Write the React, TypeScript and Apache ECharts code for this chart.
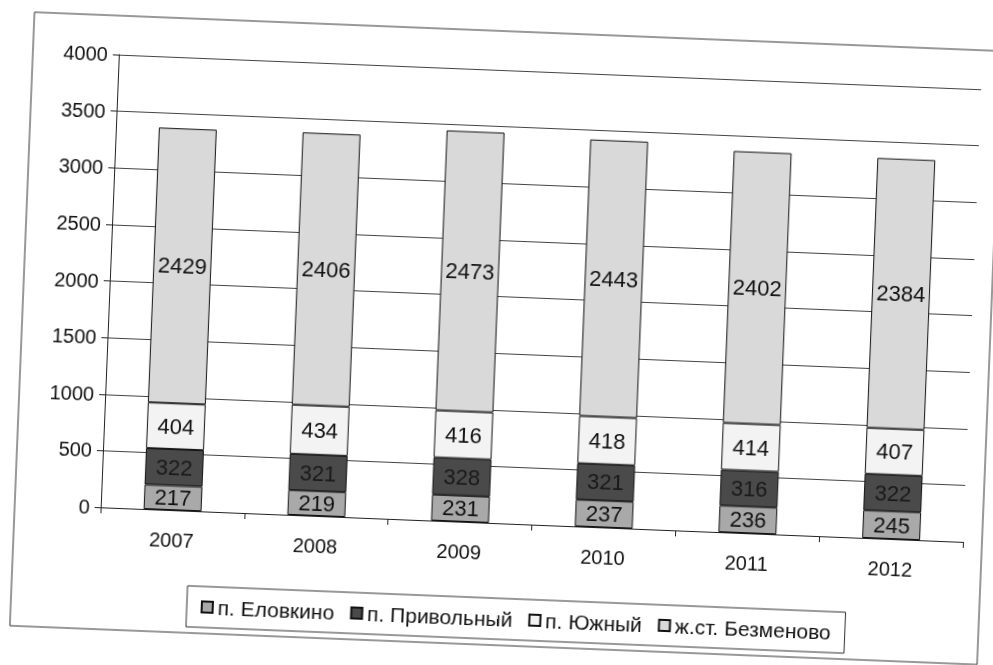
import React, { useEffect, useRef } from "react";
import * as echarts from "echarts";

const years = ["2007", "2008", "2009", "2010", "2011", "2012"];
const elovkino = [217, 219, 231, 237, 236, 245];
const privolny = [322, 321, 328, 321, 316, 322];
const yuzhny = [404, 434, 416, 418, 414, 407];
const bezmenovo = [2429, 2406, 2473, 2443, 2402, 2384];

const seriesNames = ["п. Еловкино", "п. Привольный", "п. Южный", "ж.ст. Безменово"];
const seriesData = [elovkino, privolny, yuzhny, bezmenovo];
const seriesColors = ["#a9a9a9", "#4a4a4a", "#f3f3f3", "#d9d9d9"];

const FONT = "'Liberation Sans', Arial, sans-serif";

export default function App() {
  const ref = useRef<HTMLDivElement>(null);
  useEffect(() => {
    if (!ref.current) return;
    const chart = echarts.init(ref.current, null, { renderer: "svg" });
    chart.setOption({
      animation: false,
      backgroundColor: "#ffffff",
      textStyle: { fontFamily: FONT },
      graphic: [
        {
          type: "rect",
          shape: { x: 22, y: 31, width: 968, height: 614 },
          style: { fill: "none", stroke: "#333", lineWidth: 1 },
          silent: true,
          z: -1,
        },
      ],
      grid: { left: 108, right: 22, top: 70, bottom: 142 },
      legend: {
        left: 198,
        top: 598,
        padding: [10, 14],
        borderColor: "#333",
        borderWidth: 1,
        itemWidth: 11,
        itemHeight: 11,
        itemGap: 16,
        icon: "rect",
        textStyle: { fontSize: 21, color: "#111", fontFamily: FONT },
        data: seriesNames,
      },
      xAxis: {
        type: "category",
        data: years,
        axisLine: { lineStyle: { color: "#222", width: 1 } },
        axisTick: { show: true, length: 6, lineStyle: { color: "#222" } },
        axisLabel: { fontSize: 20, color: "#111", margin: 20, fontFamily: FONT },
      },
      yAxis: {
        type: "value",
        min: 0,
        max: 4000,
        interval: 500,
        axisLine: { show: true, lineStyle: { color: "#222", width: 1 } },
        axisTick: { show: true, length: 6, lineStyle: { color: "#222" } },
        axisLabel: {
          fontSize: 20,
          color: "#111",
          margin: 11,
          fontFamily: FONT,
          formatter: (v: number) => String(v),
        },
        splitLine: { lineStyle: { color: "#444", width: 1 } },
      },
      series: seriesNames.map((name, i) => ({
        name,
        type: "bar",
        stack: "total",
        barWidth: 58,
        data: seriesData[i],
        itemStyle: { color: seriesColors[i], borderColor: "#111", borderWidth: 1 },
        label: {
          show: true,
          position: "inside",
          fontSize: 22,
          color: i === 1 ? "#1a1a1a" : "#111",
          fontFamily: FONT,
        },
      })),
    });
    return () => chart.dispose();
  }, []);
  return (
    <div
      ref={ref}
      style={{
        position: "fixed",
        left: 0,
        top: 0,
        width: 993,
        height: 665,
        transform: "rotate(2.3deg)",
        transformOrigin: "50% 50%",
      }}
    />
  );
}
